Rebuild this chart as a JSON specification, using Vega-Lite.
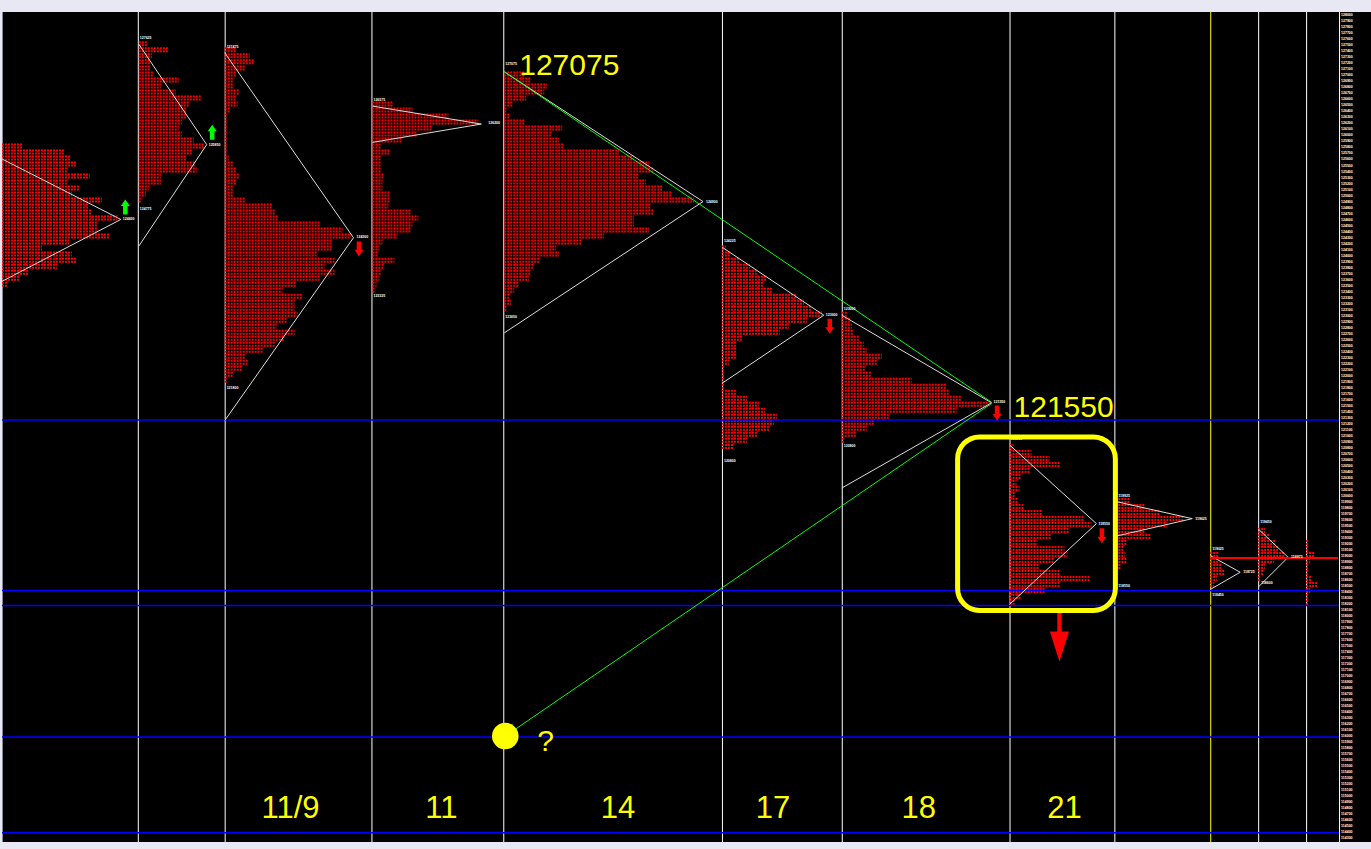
{
"$schema":"https://vega.github.io/schema/vega-lite/v6.json",
"width":1371,"height":849,
"autosize":{"type":"fit","contains":"padding"},
"padding":{"top":11,"bottom":6,"left":0,"right":0},
"background":"#e8e8f4",
"config":{"view":{"fill":"#000000","stroke":null}},
"datasets":{
"vlines":[{"x":0.5,"kind":"edge"},{"x":136.5,"kind":"session"},{"x":223.5,"kind":"session"},{"x":370.5,"kind":"session"},{"x":502.5,"kind":"session"},{"x":721.5,"kind":"session"},{"x":841.5,"kind":"session"},{"x":1009.5,"kind":"session"},{"x":1114.5,"kind":"session"},{"x":1258.5,"kind":"session"},{"x":1306.5,"kind":"session"},{"x":1339.5,"kind":"session"},{"x":1210.5,"kind":"current"}],
"hlines":[{"p":121265},{"p":118426},{"p":118177},{"p":115986},{"p":114393}],
"scale":[{"p":128000},{"p":127900},{"p":127800},{"p":127700},{"p":127600},{"p":127500},{"p":127400},{"p":127300},{"p":127200},{"p":127100},{"p":127000},{"p":126900},{"p":126800},{"p":126700},{"p":126600},{"p":126500},{"p":126400},{"p":126300},{"p":126200},{"p":126100},{"p":126000},{"p":125900},{"p":125800},{"p":125700},{"p":125600},{"p":125500},{"p":125400},{"p":125300},{"p":125200},{"p":125100},{"p":125000},{"p":124900},{"p":124800},{"p":124700},{"p":124600},{"p":124500},{"p":124400},{"p":124300},{"p":124200},{"p":124100},{"p":124000},{"p":123900},{"p":123800},{"p":123700},{"p":123600},{"p":123500},{"p":123400},{"p":123300},{"p":123200},{"p":123100},{"p":123000},{"p":122900},{"p":122800},{"p":122700},{"p":122600},{"p":122500},{"p":122400},{"p":122300},{"p":122200},{"p":122100},{"p":122000},{"p":121900},{"p":121800},{"p":121700},{"p":121600},{"p":121500},{"p":121400},{"p":121300},{"p":121200},{"p":121100},{"p":121000},{"p":120900},{"p":120800},{"p":120700},{"p":120600},{"p":120500},{"p":120400},{"p":120300},{"p":120200},{"p":120100},{"p":120000},{"p":119900},{"p":119800},{"p":119700},{"p":119600},{"p":119500},{"p":119400},{"p":119300},{"p":119200},{"p":119100},{"p":119000},{"p":118900},{"p":118800},{"p":118700},{"p":118600},{"p":118500},{"p":118400},{"p":118300},{"p":118200},{"p":118100},{"p":118000},{"p":117900},{"p":117800},{"p":117700},{"p":117600},{"p":117500},{"p":117400},{"p":117300},{"p":117200},{"p":117100},{"p":117000},{"p":116900},{"p":116800},{"p":116700},{"p":116600},{"p":116500},{"p":116400},{"p":116300},{"p":116200},{"p":116100},{"p":116000},{"p":115900},{"p":115800},{"p":115700},{"p":115600},{"p":115500},{"p":115400},{"p":115300},{"p":115200},{"p":115100},{"p":115000},{"p":114900},{"p":114800},{"p":114700},{"p":114600},{"p":114500},{"p":114400},{"p":114300}],
"rows":[
{"p":125800,"a":0,"b":21},{"p":125700,"a":0,"b":63},{"p":125600,"a":0,"b":69},{"p":125500,"a":0,"b":75},{"p":125400,"a":0,"b":65},{"p":125300,"a":0,"b":88},{"p":125200,"a":0,"b":65},{"p":125100,"a":0,"b":78},{"p":125000,"a":0,"b":70},{"p":124900,"a":0,"b":100},{"p":124800,"a":0,"b":87},{"p":124700,"a":0,"b":90},{"p":124600,"a":0,"b":115},{"p":124500,"a":0,"b":95},{"p":124400,"a":0,"b":95},{"p":124300,"a":0,"b":108},{"p":124200,"a":0,"b":67},{"p":124100,"a":0,"b":40},{"p":124000,"a":0,"b":70},{"p":123900,"a":0,"b":75},{"p":123800,"a":0,"b":55},{"p":123700,"a":0,"b":27},{"p":123600,"a":0,"b":18},{"p":123500,"a":0,"b":5},
{"p":127500,"a":137,"b":145},{"p":127400,"a":137,"b":167},{"p":127300,"a":137,"b":150},{"p":127200,"a":137,"b":149},{"p":127100,"a":137,"b":148},{"p":127000,"a":137,"b":152},{"p":126900,"a":137,"b":177},{"p":126800,"a":137,"b":159},{"p":126700,"a":137,"b":174},{"p":126600,"a":137,"b":199},{"p":126500,"a":137,"b":187},{"p":126400,"a":137,"b":184},{"p":126300,"a":137,"b":184},{"p":126200,"a":137,"b":180},{"p":126100,"a":137,"b":177},{"p":126000,"a":137,"b":180},{"p":125900,"a":137,"b":192},{"p":125800,"a":137,"b":202},{"p":125700,"a":137,"b":190},{"p":125600,"a":137,"b":184},{"p":125500,"a":137,"b":194},{"p":125400,"a":137,"b":195},{"p":125300,"a":137,"b":159},{"p":125200,"a":137,"b":159},{"p":125100,"a":137,"b":147},{"p":125000,"a":137,"b":144},{"p":124900,"a":137,"b":140},
{"p":127400,"a":223,"b":235},{"p":127300,"a":223,"b":248},{"p":127200,"a":223,"b":253},{"p":127100,"a":223,"b":243},{"p":127000,"a":223,"b":234},{"p":126900,"a":223,"b":232},{"p":126800,"a":223,"b":231},{"p":126700,"a":223,"b":238},{"p":126600,"a":223,"b":235},{"p":126500,"a":223,"b":236},{"p":126400,"a":223,"b":229},{"p":126300,"a":223,"b":226},{"p":126200,"a":223,"b":225},{"p":126100,"a":223,"b":225},{"p":126000,"a":223,"b":225},{"p":125900,"a":223,"b":225},{"p":125800,"a":223,"b":225},{"p":125700,"a":223,"b":225},{"p":125600,"a":223,"b":227},{"p":125500,"a":223,"b":231},{"p":125400,"a":223,"b":235},{"p":125300,"a":223,"b":237},{"p":125200,"a":223,"b":234},{"p":125100,"a":223,"b":232},{"p":125000,"a":223,"b":231},{"p":124900,"a":223,"b":243},{"p":124800,"a":223,"b":271},{"p":124700,"a":223,"b":273},{"p":124600,"a":223,"b":276},{"p":124500,"a":223,"b":318},{"p":124400,"a":223,"b":341},{"p":124300,"a":223,"b":350},{"p":124200,"a":223,"b":331},{"p":124100,"a":223,"b":330},{"p":124000,"a":223,"b":315},{"p":123900,"a":223,"b":333},{"p":123800,"a":223,"b":323},{"p":123700,"a":223,"b":333},{"p":123600,"a":223,"b":318},{"p":123500,"a":223,"b":295},{"p":123400,"a":223,"b":281},{"p":123300,"a":223,"b":301},{"p":123200,"a":223,"b":293},{"p":123100,"a":223,"b":293},{"p":123000,"a":223,"b":296},{"p":122900,"a":223,"b":285},{"p":122800,"a":223,"b":275},{"p":122700,"a":223,"b":293},{"p":122600,"a":223,"b":283},{"p":122500,"a":223,"b":273},{"p":122400,"a":223,"b":261},{"p":122300,"a":223,"b":243},{"p":122200,"a":223,"b":246},{"p":122100,"a":223,"b":241},{"p":122000,"a":223,"b":231},{"p":121900,"a":223,"b":226},
{"p":126500,"a":371,"b":391},{"p":126400,"a":371,"b":411},{"p":126300,"a":371,"b":447},{"p":126200,"a":371,"b":477},{"p":126100,"a":371,"b":431},{"p":126000,"a":371,"b":415},{"p":125900,"a":371,"b":401},{"p":125800,"a":371,"b":380},{"p":125700,"a":371,"b":388},{"p":125600,"a":371,"b":380},{"p":125500,"a":371,"b":380},{"p":125400,"a":371,"b":380},{"p":125300,"a":371,"b":383},{"p":125200,"a":371,"b":381},{"p":125100,"a":371,"b":381},{"p":125000,"a":371,"b":388},{"p":124900,"a":371,"b":388},{"p":124800,"a":371,"b":387},{"p":124700,"a":371,"b":410},{"p":124600,"a":371,"b":417},{"p":124500,"a":371,"b":411},{"p":124400,"a":371,"b":409},{"p":124300,"a":371,"b":396},{"p":124200,"a":371,"b":381},{"p":124100,"a":371,"b":378},{"p":124000,"a":371,"b":377},{"p":123900,"a":371,"b":393},{"p":123800,"a":371,"b":383},{"p":123700,"a":371,"b":380},{"p":123600,"a":371,"b":378},{"p":123500,"a":371,"b":375},{"p":123400,"a":371,"b":373},
{"p":127000,"a":503,"b":523},{"p":126900,"a":503,"b":530},{"p":126800,"a":503,"b":546},{"p":126700,"a":503,"b":543},{"p":126600,"a":503,"b":525},{"p":126500,"a":503,"b":511},{"p":126400,"a":503,"b":506},{"p":126300,"a":503,"b":508},{"p":126200,"a":503,"b":523},{"p":126100,"a":503,"b":561},{"p":126000,"a":503,"b":550},{"p":125900,"a":503,"b":558},{"p":125800,"a":503,"b":563},{"p":125700,"a":503,"b":618},{"p":125600,"a":503,"b":633},{"p":125500,"a":503,"b":648},{"p":125400,"a":503,"b":653},{"p":125300,"a":503,"b":638},{"p":125200,"a":503,"b":645},{"p":125100,"a":503,"b":661},{"p":125000,"a":503,"b":671},{"p":124900,"a":503,"b":693},{"p":124800,"a":503,"b":650},{"p":124700,"a":503,"b":653},{"p":124600,"a":503,"b":633},{"p":124500,"a":503,"b":633},{"p":124400,"a":503,"b":648},{"p":124300,"a":503,"b":603},{"p":124200,"a":503,"b":580},{"p":124100,"a":503,"b":555},{"p":124000,"a":503,"b":558},{"p":123900,"a":503,"b":539},{"p":123800,"a":503,"b":533},{"p":123700,"a":503,"b":530},{"p":123600,"a":503,"b":528},{"p":123500,"a":503,"b":518},{"p":123400,"a":503,"b":513},{"p":123300,"a":503,"b":509},{"p":123200,"a":503,"b":510},{"p":123100,"a":503,"b":506},
{"p":124100,"a":721,"b":725},{"p":124000,"a":721,"b":729},{"p":123900,"a":721,"b":738},{"p":123800,"a":721,"b":749},{"p":123700,"a":721,"b":756},{"p":123600,"a":721,"b":766},{"p":123500,"a":721,"b":762},{"p":123400,"a":721,"b":771},{"p":123300,"a":721,"b":795},{"p":123200,"a":721,"b":803},{"p":123100,"a":721,"b":811},{"p":123000,"a":721,"b":821},{"p":122900,"a":721,"b":806},{"p":122800,"a":721,"b":788},{"p":122700,"a":721,"b":779},{"p":122600,"a":721,"b":741},{"p":122500,"a":721,"b":736},{"p":122400,"a":721,"b":736},{"p":122300,"a":721,"b":735},{"p":122200,"a":721,"b":728},{"p":122100,"a":721,"b":723},{"p":122000,"a":721,"b":723},{"p":121900,"a":721,"b":723},{"p":121800,"a":721,"b":724},{"p":121700,"a":721,"b":735},{"p":121600,"a":721,"b":746},{"p":121500,"a":721,"b":758},{"p":121400,"a":721,"b":764},{"p":121300,"a":721,"b":776},{"p":121200,"a":721,"b":773},{"p":121100,"a":721,"b":769},{"p":121000,"a":721,"b":756},{"p":120900,"a":721,"b":746},{"p":120800,"a":721,"b":733},
{"p":123000,"a":841,"b":846},{"p":122900,"a":841,"b":849},{"p":122800,"a":841,"b":851},{"p":122700,"a":841,"b":853},{"p":122600,"a":841,"b":858},{"p":122500,"a":841,"b":863},{"p":122400,"a":841,"b":866},{"p":122300,"a":841,"b":881},{"p":122200,"a":841,"b":876},{"p":122100,"a":841,"b":864},{"p":122000,"a":841,"b":871},{"p":121900,"a":841,"b":911},{"p":121800,"a":841,"b":946},{"p":121700,"a":841,"b":948},{"p":121600,"a":841,"b":961},{"p":121500,"a":841,"b":989},{"p":121400,"a":841,"b":956},{"p":121300,"a":841,"b":889},{"p":121200,"a":841,"b":873},{"p":121100,"a":841,"b":866},{"p":121000,"a":841,"b":855},{"p":120900,"a":841,"b":844},
{"p":120800,"a":1009,"b":1013},{"p":120700,"a":1009,"b":1031},{"p":120600,"a":1009,"b":1049},{"p":120500,"a":1009,"b":1059},{"p":120400,"a":1009,"b":1029},{"p":120300,"a":1009,"b":1021},{"p":120200,"a":1009,"b":1016},{"p":120100,"a":1009,"b":1019},{"p":120000,"a":1009,"b":1014},{"p":119900,"a":1009,"b":1017},{"p":119800,"a":1009,"b":1023},{"p":119700,"a":1009,"b":1042},{"p":119600,"a":1009,"b":1084},{"p":119500,"a":1009,"b":1091},{"p":119400,"a":1009,"b":1069},{"p":119300,"a":1009,"b":1051},{"p":119200,"a":1009,"b":1037},{"p":119100,"a":1009,"b":1064},{"p":119000,"a":1009,"b":1067},{"p":118900,"a":1009,"b":1053},{"p":118800,"a":1009,"b":1039},{"p":118700,"a":1009,"b":1059},{"p":118600,"a":1009,"b":1089},{"p":118500,"a":1009,"b":1059},{"p":118400,"a":1009,"b":1045},{"p":118300,"a":1009,"b":1021},{"p":118200,"a":1009,"b":1014},
{"p":119900,"a":1115,"b":1129},{"p":119800,"a":1115,"b":1145},{"p":119700,"a":1115,"b":1160},{"p":119600,"a":1115,"b":1183},{"p":119500,"a":1115,"b":1167},{"p":119400,"a":1115,"b":1145},{"p":119300,"a":1115,"b":1151},{"p":119200,"a":1115,"b":1127},{"p":119100,"a":1115,"b":1123},{"p":119000,"a":1115,"b":1125},{"p":118900,"a":1115,"b":1127},{"p":118800,"a":1115,"b":1121},
{"p":119000,"a":1210,"b":1218},{"p":118900,"a":1210,"b":1218},{"p":118800,"a":1210,"b":1222},{"p":118700,"a":1210,"b":1225},{"p":118600,"a":1210,"b":1217},{"p":118500,"a":1210,"b":1214},
{"p":119400,"a":1258,"b":1265},{"p":119300,"a":1258,"b":1270},{"p":119200,"a":1258,"b":1276},{"p":119100,"a":1258,"b":1278},{"p":119000,"a":1258,"b":1285},{"p":118900,"a":1258,"b":1274},{"p":118800,"a":1258,"b":1265},{"p":118700,"a":1258,"b":1263},{"p":118600,"a":1258,"b":1260},
{"p":119200,"a":1306,"b":1308},{"p":119100,"a":1306,"b":1309},{"p":119000,"a":1306,"b":1315},{"p":118900,"a":1306,"b":1310},{"p":118800,"a":1306,"b":1308},{"p":118700,"a":1306,"b":1308},{"p":118600,"a":1306,"b":1311},{"p":118500,"a":1306,"b":1318},{"p":118400,"a":1306,"b":1310},{"p":118300,"a":1306,"b":1309},{"p":118200,"a":1306,"b":1308}
],
"tri":[
{"h":0,"o":0,"x":0,"p":125609},{"h":0,"o":1,"x":119,"p":124602},{"h":0,"o":2,"x":0,"p":123572},
{"h":1,"o":0,"x":137,"p":127518},{"h":1,"o":1,"x":205,"p":125847},{"h":1,"o":2,"x":137,"p":124158},
{"h":2,"o":0,"x":223,"p":127379},{"h":2,"o":1,"x":352,"p":124298},{"h":2,"o":2,"x":223,"p":121253},
{"h":3,"o":0,"x":371,"p":126489},{"h":3,"o":1,"x":480,"p":126190},{"h":3,"o":2,"x":371,"p":125885},
{"h":4,"o":0,"x":503,"p":127060},{"h":4,"o":1,"x":702,"p":124900},{"h":4,"o":2,"x":503,"p":122714},
{"h":5,"o":0,"x":721,"p":124142},{"h":5,"o":1,"x":823,"p":123008},{"h":5,"o":2,"x":721,"p":121874},
{"h":6,"o":0,"x":841,"p":123008},{"h":6,"o":1,"x":991,"p":121550},{"h":6,"o":2,"x":841,"p":120131},
{"h":7,"o":0,"x":1009,"p":120850},{"h":7,"o":1,"x":1096,"p":119539},{"h":7,"o":2,"x":1009,"p":118194},
{"h":8,"o":0,"x":1115,"p":119909},{"h":8,"o":1,"x":1192,"p":119622},{"h":8,"o":2,"x":1115,"p":119328},
{"h":9,"o":0,"x":1210,"p":119007},{"h":9,"o":1,"x":1240,"p":118730},{"h":9,"o":2,"x":1210,"p":118443},
{"h":10,"o":0,"x":1258,"p":119451},{"h":10,"o":1,"x":1288,"p":118979},{"h":10,"o":2,"x":1258,"p":118481}
],
"green":[
{"g":1,"o":0,"x":503,"p":127060},{"g":1,"o":1,"x":991,"p":121559},
{"g":2,"o":0,"x":504,"p":116003},{"g":2,"o":1,"x":991,"p":121540}
],
"tiny":[
{"x":121,"p":124602,"t":"124600"},
{"x":138,"p":127628,"t":"127625"},{"x":207,"p":125847,"t":"125850"},{"x":138,"p":124768,"t":"124775"},
{"x":225,"p":127478,"t":"127475"},{"x":355,"p":124303,"t":"124300"},{"x":225,"p":121796,"t":"121800"},
{"x":372,"p":126589,"t":"126575"},{"x":487,"p":126200,"t":"126200"},{"x":372,"p":123328,"t":"123325"},
{"x":504,"p":127186,"t":"127075"},{"x":705,"p":124900,"t":"124900"},{"x":504,"p":122980,"t":"123050"},
{"x":723,"p":124236,"t":"124225"},{"x":825,"p":123008,"t":"123000"},{"x":723,"p":120589,"t":"120800"},
{"x":843,"p":123108,"t":"123000"},{"x":993,"p":121569,"t":"121550"},{"x":843,"p":120833,"t":"120900"},
{"x":1010,"p":120954,"t":"120850"},{"x":1098,"p":119539,"t":"119550"},{"x":1012,"p":118061,"t":"118200"},
{"x":1118,"p":120003,"t":"119925"},{"x":1195,"p":119622,"t":"119625"},{"x":1118,"p":118498,"t":"118550"},
{"x":1212,"p":119118,"t":"119025"},{"x":1243,"p":118730,"t":"118725"},{"x":1212,"p":118355,"t":"118450"},
{"x":1260,"p":119560,"t":"119450"},{"x":1291,"p":118986,"t":"118975"},{"x":1261,"p":118543,"t":"118600"}
]
},
"layer":[
{"data":{"name":"vlines"},"mark":{"type":"rule","strokeWidth":1},
 "encoding":{"x":{"field":"x","type":"quantitative","scale":{"domain":[0,1371],"nice":false,"zero":false},"axis":null},
 "color":{"field":"kind","type":"nominal","scale":{"domain":["session","current","edge"],"range":["#ffffff","#ffff00","#8a8a9a"]},"legend":null}}},
{"data":{"name":"rows"},"mark":{"type":"rule","color":"#ff0000","strokeWidth":2,"strokeDash":[2,1]},
 "encoding":{"x":{"field":"a","type":"quantitative","scale":{"domain":[0,1371],"nice":false,"zero":false},"axis":null},"x2":{"field":"b"},
 "y":{"field":"p","type":"quantitative","scale":{"domain":[114240,128055],"nice":false,"zero":false},"axis":null}}},
{"data":{"name":"rows"},"mark":{"type":"rule","color":"#ff0000","strokeWidth":2,"strokeDash":[2,1],"yOffset":-3},
 "encoding":{"x":{"field":"a","type":"quantitative","axis":null},"x2":{"field":"b"},
 "y":{"field":"p","type":"quantitative","axis":null}}},
{"data":{"name":"hlines"},"mark":{"type":"rule","color":"#0000ff","strokeWidth":1.5},
 "encoding":{"y":{"field":"p","type":"quantitative","axis":null},"x":{"datum":0,"type":"quantitative","axis":null},"x2":{"datum":1339}}},
{"data":{"name":"tri"},"mark":{"type":"line","color":"#dcdcdc","strokeWidth":1},
 "encoding":{"x":{"field":"x","type":"quantitative","axis":null},"y":{"field":"p","type":"quantitative","axis":null},"detail":{"field":"h","type":"nominal"},"order":{"field":"o","type":"quantitative"}}},
{"data":{"name":"green"},"mark":{"type":"line","color":"#00ff00","strokeWidth":1},
 "encoding":{"x":{"field":"x","type":"quantitative","axis":null},"y":{"field":"p","type":"quantitative","axis":null},"detail":{"field":"g","type":"nominal"},"order":{"field":"o","type":"quantitative"}}},
{"data":{"values":[{"p":118969}]},"mark":{"type":"rule","color":"#ff0000","strokeWidth":2},
 "encoding":{"y":{"field":"p","type":"quantitative","axis":null},"x":{"datum":1210,"type":"quantitative","axis":null},"x2":{"datum":1338}}},
{"data":{"name":"tiny"},"mark":{"type":"text","color":"#ffffff","fontSize":3.5,"font":"Liberation Sans","fontWeight":"bold","align":"left","baseline":"middle"},
 "encoding":{"x":{"field":"x","type":"quantitative","axis":null},"y":{"field":"p","type":"quantitative","axis":null},"text":{"field":"t"}}},
{"data":{"name":"scale"},"mark":{"type":"text","color":"#ffffff","fontSize":3.5,"font":"Liberation Sans","fontWeight":"bold","align":"left","baseline":"middle","xOffset":2},
 "encoding":{"x":{"datum":1339,"type":"quantitative","axis":null},"y":{"field":"p","type":"quantitative","axis":null},"text":{"field":"p","type":"quantitative","format":"d"}}},
{"data":{"values":[{"x":123.5,"p":124809},{"x":210.5,"p":126054}]},
 "mark":{"type":"point","shape":"M0,-1L0.6,-0.13L0.3,-0.13L0.3,1L-0.3,1L-0.3,-0.13L-0.6,-0.13Z","size":225,"filled":true,"color":"#00ff00","opacity":1,"strokeWidth":0},
 "encoding":{"x":{"field":"x","type":"quantitative","axis":null},"y":{"field":"p","type":"quantitative","axis":null}}},
{"data":{"values":[{"x":357.5,"p":124112},{"x":829,"p":122825},{"x":996.5,"p":121381},{"x":1101.5,"p":119339}]},
 "mark":{"type":"point","shape":"M0,1L0.6,0.13L0.3,0.13L0.3,-1L-0.3,-1L-0.3,0.13L-0.6,0.13Z","size":225,"filled":true,"color":"#ff0000","opacity":1,"strokeWidth":0},
 "encoding":{"x":{"field":"x","type":"quantitative","axis":null},"y":{"field":"p","type":"quantitative","axis":null}}},
{"data":{"values":[{"x":1059,"p":117654}]},
 "mark":{"type":"point","shape":"M-0.09,-1L0.09,-1L0.09,-0.22L0.39,-0.22L0,1L-0.39,-0.22L-0.09,-0.22Z","size":2401,"filled":true,"color":"#ff0000","opacity":1,"strokeWidth":0},
 "encoding":{"x":{"field":"x","type":"quantitative","axis":null},"y":{"field":"p","type":"quantitative","axis":null}}},
{"data":{"values":[{"x0":957,"x1":1115,"p0":120983,"p1":118094}]},
 "mark":{"type":"rect","cornerRadius":22,"fill":"transparent","stroke":"#ffff00","strokeWidth":5},
 "encoding":{"x":{"field":"x0","type":"quantitative","axis":null},"x2":{"field":"x1"},"y":{"field":"p0","type":"quantitative","axis":null},"y2":{"field":"p1"}}},
{"data":{"values":[{"x":504,"p":116003}]},
 "mark":{"type":"point","shape":"circle","size":707,"filled":true,"color":"#ffff00","opacity":1,"strokeWidth":0},
 "encoding":{"x":{"field":"x","type":"quantitative","axis":null},"y":{"field":"p","type":"quantitative","axis":null}}},
{"data":{"values":[{"x":518,"p":127009,"t":"127075"},{"x":1013,"p":121320,"t":"121550"},{"x":536,"p":115754,"t":"?"}]},
 "mark":{"type":"text","color":"#ffff00","fontSize":30,"font":"Liberation Sans","align":"left","baseline":"alphabetic"},
 "encoding":{"x":{"field":"x","type":"quantitative","axis":null},"y":{"field":"p","type":"quantitative","axis":null},"text":{"field":"t"}}},
{"data":{"values":[{"x":289,"t":"11/9"},{"x":440,"t":"11"},{"x":617,"t":"14"},{"x":772,"t":"17"},{"x":918,"t":"18"},{"x":1064,"t":"21"}]},
 "mark":{"type":"text","color":"#ffff00","fontSize":31,"font":"Liberation Sans","align":"center","baseline":"alphabetic"},
 "encoding":{"x":{"field":"x","type":"quantitative","axis":null},"y":{"datum":114641,"type":"quantitative","axis":null},"text":{"field":"t"}}}
]
}
